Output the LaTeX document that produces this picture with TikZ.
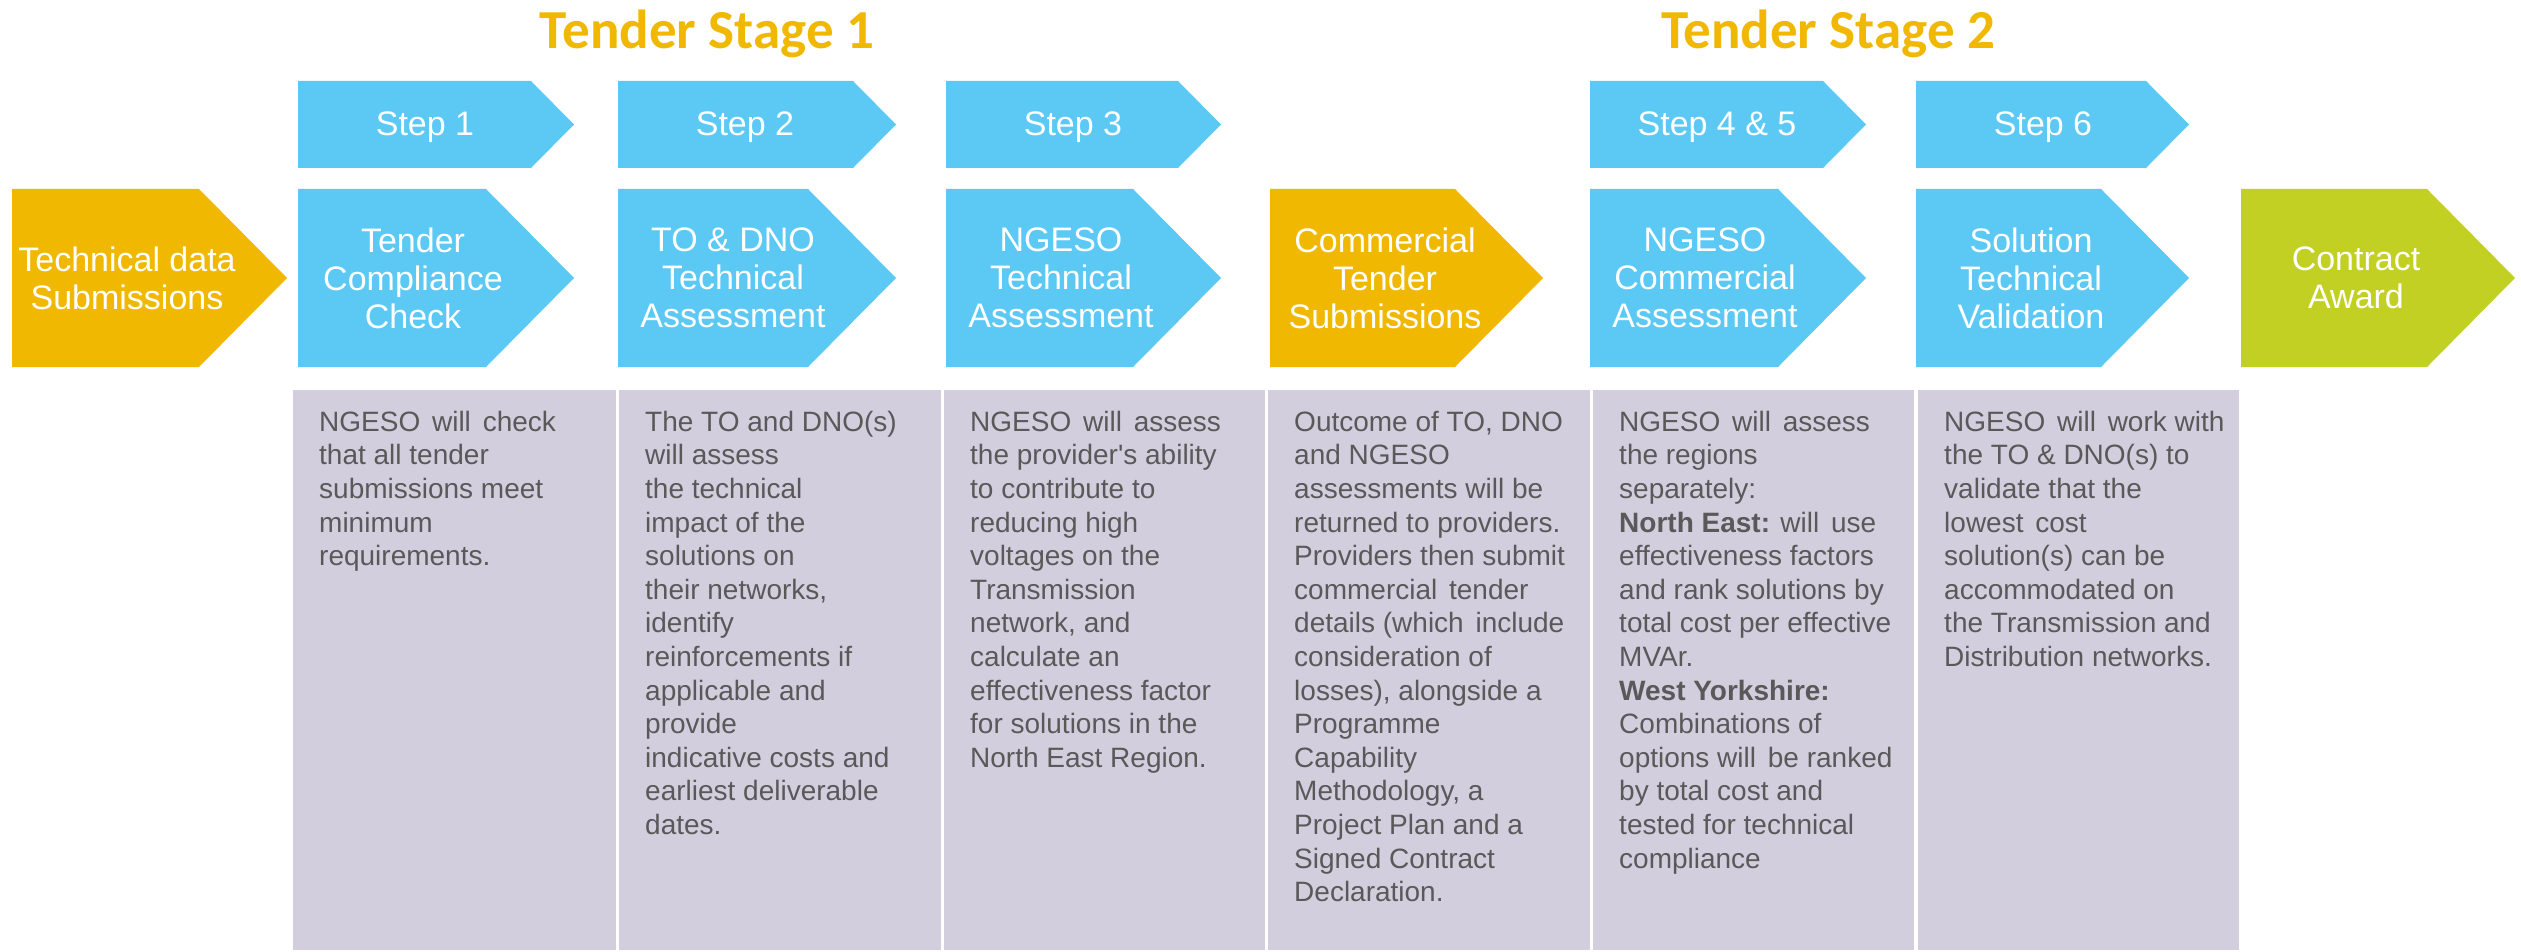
\documentclass[tikz,border=0pt]{standalone}
\usepackage{fontspec}
\setmainfont{Liberation Sans}[Ligatures=TeXOff]
\newfontfamily\titlefont{Carlito}
\definecolor{cgold}{HTML}{F0B800}
\definecolor{cblue}{HTML}{5BC9F4}
\definecolor{cgreen}{HTML}{C2CF23}
\definecolor{cpurple}{HTML}{D3CEDE}
\definecolor{cgrey}{HTML}{595959}
\newcommand\mainchev[3]{\fill[#3] (#1,189) -- ({#2-88},189) -- (#2,278) -- ({#2-88},367) -- (#1,367) -- cycle;}
\newcommand\stepchev[2]{\fill[cblue] (#1,81) -- ({#2-43},81) -- (#2,124.5) -- ({#2-43},168) -- (#1,168) -- cycle;}
\newcommand\pbox[2]{\fill[cpurple] (#1,390) rectangle (#2,950);}
\newcommand\xs{\hspace{4pt}}
\begin{document}
\begin{tikzpicture}[x=1pt,y=-1pt]
\tikzset{
  lbl/.style={text=white, align=center, inner sep=0pt, font=\fontsize{34}{38}\selectfont},
  steplbl/.style={text=white, inner sep=0pt, anchor=base, font=\fontsize{34}{38}\selectfont},
  desc/.style={text=cgrey, align=left, inner sep=0pt, anchor=north west, font=\fontsize{28}{33.6}\selectfont},
  ttl/.style={text=cgold, inner sep=0pt, anchor=base, font=\titlefont\bfseries\fontsize{55}{60}\selectfont}
}
\useasboundingbox (0,0) rectangle (2521,952);
\fill[white] (0,0) rectangle (2521,952);

% titles
\node[ttl] (t1) at (707,49) {Tender Stage 1};
\node[ttl] (t2) at (1828,49) {Tender Stage 2};

% step banners
\stepchev{298}{574}
\stepchev{618}{896}
\stepchev{946}{1221}
\stepchev{1590}{1866}
\stepchev{1916}{2189}
\node[steplbl] (s1) at (425,136) {Step 1};
\node[steplbl] (s2) at (745,136) {Step 2};
\node[steplbl] (s3) at (1073,136) {Step 3};
\node[steplbl] (s45) at (1717,136) {Step 4 \& 5};
\node[steplbl] (s6) at (2043,136) {Step 6};

% main chevrons
\mainchev{12}{287}{cgold}
\mainchev{298}{574}{cblue}
\mainchev{618}{896}{cblue}
\mainchev{946}{1221}{cblue}
\mainchev{1270}{1543}{cgold}
\mainchev{1590}{1866}{cblue}
\mainchev{1916}{2189}{cblue}
\mainchev{2241}{2515}{cgreen}
\node[lbl] (m0) at (127,278) {Technical data\\Submissions};
\node[lbl] (m1) at (413,278) {Tender\\Compliance\\Check};
\node[lbl] (m2) at (733,278) {TO \& DNO\\Technical\\Assessment};
\node[lbl] (m3) at (1061,278) {NGESO\\Technical\\Assessment};
\node[lbl] (m4) at (1385,278) {Commercial\\Tender\\Submissions};
\node[lbl] (m5) at (1705,278) {NGESO\\Commercial\\Assessment};
\node[lbl] (m6) at (2031,278) {Solution\\Technical\\Validation};
\node[lbl] (m7) at (2356,278) {Contract\\Award};

% description boxes
\pbox{293}{616}
\pbox{619}{941}
\pbox{944}{1265}
\pbox{1268}{1590}
\pbox{1593}{1914}
\pbox{1918}{2239}

\node[desc] (d1) at (319,407.5) {\strut NGESO\xs{} will\xs{} check\\that all tender\\submissions meet\\minimum\\requirements.};
\node[desc] (d2) at (645,407.5) {\strut The TO and DNO(s)\\will assess\\the technical\\impact of the\\solutions on\\their networks,\\identify\\reinforcements if\\applicable and\\provide\\indicative costs and\\earliest deliverable\\dates.};
\node[desc] (d3) at (970,407.5) {\strut NGESO\xs{} will\xs{} assess\\the provider's ability\\to contribute to\\reducing high\\voltages on the\\Transmission\\network, and\\calculate an\\effectiveness factor\\for solutions in the\\North East Region.};
\node[desc] (d4) at (1294,407.5) {\strut Outcome of TO, DNO\\and NGESO\\assessments will be\\returned to providers.\\Providers then submit\\commercial\xs{} tender\\details (which\xs{} include\\consideration of\\losses), alongside a\\Programme\\Capability\\Methodology, a\\Project Plan and a\\Signed Contract\\Declaration.};
\node[desc] (d5) at (1619,407.5) {\strut NGESO\xs{} will\xs{} assess\\the regions\\separately:\\{\bfseries North East:} will\xs{} use\\effectiveness factors\\and rank solutions by\\total cost per effective\\MVAr.\\{\bfseries West Yorkshire:}\\Combinations of\\options will\xs{} be ranked\\by total cost and\\tested for technical\\compliance};
\node[desc] (d6) at (1944,407.5) {\strut NGESO\xs{} will\xs{} work with\\the TO \& DNO(s) to\\validate that the\\lowest\xs{} cost\\solution(s) can be\\accommodated on\\the Transmission and\\Distribution networks.};
\end{tikzpicture}
\end{document}
